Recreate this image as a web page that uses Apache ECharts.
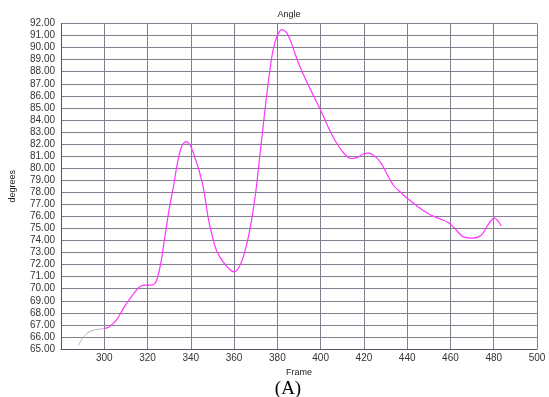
<!DOCTYPE html>
<html>
<head>
<meta charset="utf-8">
<script src="https://cdn.jsdelivr.net/npm/echarts@6/dist/echarts.min.js"></script>
<style>
  html, body { margin: 0; padding: 0; background: #ffffff; }
  #chart { width: 549px; height: 397px; }
</style>
</head>
<body>
<div id="chart"></div>
<script>
// lead-in part of the trace (drawn grey)
const leadFrames = [288, 290, 292, 294, 296, 298, 300];
const leadAngles = [65.3, 65.9, 66.3, 66.5, 66.6, 66.65, 66.7];

// main trace (drawn magenta)
const frames = [300, 302, 304, 306, 308, 310, 312, 314, 316, 318, 320, 322, 324, 326, 328, 330, 332,
  334, 336, 338, 340, 342, 344, 346, 348, 350, 352, 355, 358, 360, 362, 364, 366, 368, 370,
  372, 374, 376, 378, 380, 382, 384, 386, 388, 390, 394, 397, 400, 403, 406, 410, 414, 417,
  420, 422, 425, 428, 431, 434, 437, 440, 445, 450, 455, 459, 462, 464, 466, 470, 473, 475,
  477, 479, 480.5, 482, 483.5];
const angles = [66.7, 66.8, 67.1, 67.5, 68.1, 68.7, 69.2, 69.7, 70.1, 70.3, 70.3, 70.3, 70.6, 72.0, 74.3, 76.6, 78.5,
  80.6, 81.9, 82.2, 81.8, 80.8, 79.7, 78.2, 75.9, 74.3, 73.1, 72.2, 71.6, 71.4, 71.7, 72.5, 73.8, 75.6, 78.0,
  81.2, 84.4, 87.4, 89.8, 91.0, 91.5, 91.3, 90.6, 89.6, 88.6, 87.0, 85.9, 84.8, 83.6, 82.5, 81.4, 80.8, 80.9,
  81.2, 81.25, 81.0, 80.4, 79.4, 78.5, 78.0, 77.5, 76.8, 76.2, 75.8, 75.5, 75.0, 74.6, 74.3, 74.2, 74.3, 74.6,
  75.2, 75.7, 75.85, 75.6, 75.2];

const gridColor = '#80808f';
const labelFont = { fontFamily: 'Liberation Sans', fontSize: 10, color: '#333333' };

const chart = echarts.init(document.getElementById('chart'));
chart.setOption({
  backgroundColor: '#ffffff',
  animation: false,
  title: [
    { text: 'Angle', left: 284, top: 5, textAlign: 'center',
      textStyle: { fontFamily: 'Liberation Sans', fontSize: 9, fontWeight: 'normal', color: '#222' } },
    { text: '(A)', left: 283, top: 375, textAlign: 'center',
      textStyle: { fontFamily: 'Liberation Serif', fontSize: 19, fontWeight: 'normal', color: '#000' } }
  ],
  grid: { left: 61, right: 12, top: 23.5, bottom: 48 },
  xAxis: {
    type: 'value', min: 280, max: 500, interval: 20,
    name: 'Frame', nameLocation: 'middle', nameGap: 18,
    nameTextStyle: { fontFamily: 'Liberation Sans', fontSize: 9, color: '#222' },
    axisLine: { lineStyle: { color: '#555566' } },
    axisTick: { show: false },
    axisLabel: Object.assign({ margin: 4, formatter: (v) => (v === 280 ? '' : String(v)) }, labelFont),
    splitLine: { show: true, lineStyle: { color: gridColor, width: 1 } }
  },
  yAxis: {
    type: 'value', min: 65, max: 92, interval: 1,
    name: 'degrees', nameLocation: 'middle', nameGap: 44,
    nameTextStyle: { fontFamily: 'Liberation Sans', fontSize: 9, color: '#222' },
    axisLine: { show: true, lineStyle: { color: '#555566' } },
    axisTick: { show: false },
    axisLabel: Object.assign({ margin: 6, formatter: (v) => v.toFixed(2) }, labelFont),
    splitLine: { show: true, lineStyle: { color: gridColor, width: 1 } }
  },
  series: [
    {
      type: 'line', smooth: 0.3, symbol: 'none',
      lineStyle: { color: '#b4b4b4', width: 1 },
      data: leadFrames.map((f, i) => [f, leadAngles[i]])
    },
    {
      type: 'line', smooth: 0.3, symbol: 'none',
      lineStyle: { color: '#ff33ff', width: 1.2 },
      data: frames.map((f, i) => [f, angles[i]])
    }
  ]
});
</script>
</body>
</html>
